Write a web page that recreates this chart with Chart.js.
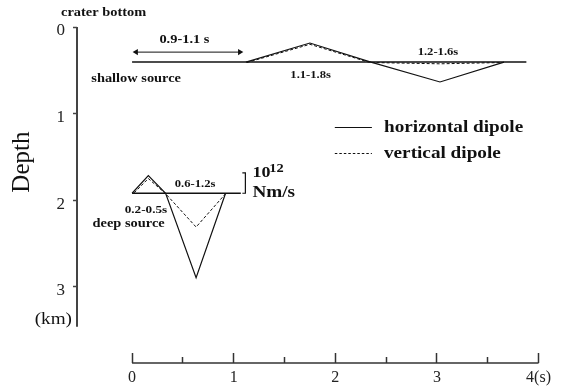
<!DOCTYPE html>
<html>
<head>
<meta charset="utf-8">
<title>Source time functions</title>
<script src="https://cdn.jsdelivr.net/npm/chart.js@4.4.1/dist/chart.umd.min.js"></script>
<style>
  html, body { margin: 0; padding: 0; background: #fff; }
  #wrap { width: 566px; height: 392px; }
</style>
</head>
<body>
<div id="wrap"><canvas id="chart" width="566" height="392"></canvas></div>
<script>
/* ---------- data: time (s) and depth (km) ---------- */
const X_TICKS = [0, 1, 2, 3, 4];
const X_MINOR = [0.5, 1.5, 2.5, 3.5];
const Y_TICKS = [0, 1, 2, 3];

// shallow source
const SHALLOW_BASE_T = [0, 3.88];
const SHALLOW_BASE_D = [0.405, 0.405];
const SHALLOW_H_T = [1.12, 1.75, 2.35, 3.03, 3.66];
const SHALLOW_H_D = [0.405, 0.185, 0.405, 0.635, 0.405];
const SHALLOW_V_T = [1.13, 1.75, 2.34, 3.03, 3.66];
const SHALLOW_V_D = [0.41, 0.20, 0.41, 0.425, 0.41];

// deep source
const DEEP_BASE_T = [0, 1.07];
const DEEP_BASE_D = [1.92, 1.92];
const DEEP_H_T = [0, 0.16, 0.33, 0.63, 0.92];
const DEEP_H_D = [1.92, 1.715, 1.92, 2.895, 1.92];
const DEEP_V_T = [0.02, 0.16, 0.33, 0.63, 0.92];
const DEEP_V_D = [1.915, 1.75, 1.925, 2.31, 1.925];

// duration arrow (0.9-1.1 s) and moment-rate scale bar (10^12 Nm/s)
const ARROW_T = [0.04, 1.06];
const ARROW_D = [0.29, 0.29];
const BAR_T = [1.085, 1.115, 1.115, 1.085];
const BAR_D = [1.685, 1.685, 1.92, 1.92];

const X_MIN = -0.542, X_MAX = 4;
const Y_MAX = 3.88;        // depth at the time axis
const Y_AXIS_END = 3.46;   // where the depth axis line stops

const SERIF = '"Liberation Serif", "Times New Roman", serif';
const SX = 1.2;            // the figure's lettering is a bit wide

const pts = (t, d) => t.map((v, i) => ({ x: v, y: d[i] }));

function line(data, extra) {
  return Object.assign({
    data,
    showLine: true,
    borderColor: '#111',
    borderWidth: 1.2,
    pointRadius: 0,
    fill: false
  }, extra || {});
}

/* ---------- annotations ---------- */
const notes = [
  { s: 'crater bottom', t: -0.28, d: -0.16, size: 12, bold: true },
  { s: '0.9-1.1 s', t: 0.515, d: 0.15, size: 12, bold: true },
  { s: 'shallow source', t: 0.04, d: 0.60, size: 12, bold: true },
  { s: '1.1-1.8s', t: 1.757, d: 0.554, size: 10.5, bold: true },
  { s: '1.2-1.6s', t: 3.01, d: 0.29, size: 10.5, bold: true },
  { s: '0.6-1.2s', t: 0.62, d: 1.82, size: 10.5, bold: true },
  { s: '0.2-0.5s', t: 0.136, d: 2.11, size: 11, bold: true },
  { s: 'deep source', t: -0.034, d: 2.27, size: 12, bold: true },
  { s: '10', t: 1.184, d: 1.685, size: 15, bold: true, align: 'left' },
  { s: '12', t: 1.35, d: 1.64, size: 12, bold: true, align: 'left' },
  { s: 'Nm/s', t: 1.184, d: 1.92, size: 16, bold: true, align: 'left' },
  { s: '(km)', t: -0.775, d: 3.38, size: 16, bold: false }
];

function text(ctx, s, x, y, size, bold, align) {
  ctx.save();
  ctx.font = (bold ? 'bold ' : '') + size + 'px ' + SERIF;
  ctx.fillStyle = '#111';
  ctx.textAlign = align || 'center';
  ctx.textBaseline = 'middle';
  ctx.translate(x, y);
  ctx.scale(SX, 1);
  ctx.fillText(s, 0, 0);
  ctx.restore();
}

const notesPlugin = {
  id: 'notes',
  afterDatasetsDraw(chart) {
    const { ctx, scales: { x, y } } = chart;
    notes.forEach(n =>
      text(ctx, n.s, x.getPixelForValue(n.t), y.getPixelForValue(n.d), n.size, n.bold, n.align));

    // "Depth" axis title, rotated
    ctx.save();
    ctx.translate(x.getPixelForValue(-1.075), y.getPixelForValue(1.56));
    ctx.rotate(-Math.PI / 2);
    ctx.font = '25px ' + SERIF;
    ctx.fillStyle = '#111';
    ctx.textAlign = 'center';
    ctx.textBaseline = 'middle';
    ctx.fillText('Depth', 0, 0);
    ctx.restore();

    // legend
    const lx0 = x.getPixelForValue(1.995), lx1 = x.getPixelForValue(2.36);
    const tx = x.getPixelForValue(2.479);
    const rows = [
      { label: chart.data.datasets[3].label, d: 1.155, dash: [] },
      { label: chart.data.datasets[4].label, d: 1.455, dash: [2.5, 2] }
    ];
    rows.forEach(r => {
      const py = Math.round(y.getPixelForValue(r.d)) + 0.5;
      ctx.save();
      ctx.strokeStyle = '#111';
      ctx.lineWidth = 1.2;
      ctx.setLineDash(r.dash);
      ctx.beginPath();
      ctx.moveTo(lx0, py);
      ctx.lineTo(lx1, py);
      ctx.stroke();
      ctx.restore();
      text(ctx, r.label, tx, py, 16, true, 'left');
    });
  }
};

/* ---------- chart ---------- */
const dashed = { borderDash: [3, 2], borderWidth: 1 };

new Chart(document.getElementById('chart'), {
  type: 'scatter',
  data: {
    datasets: [
      line([{ x: X_MIN, y: 0 }, { x: X_MIN, y: Y_AXIS_END }],
        { borderColor: '#444', borderWidth: 2, clip: false }),
      line([{ x: X_TICKS[0], y: Y_MAX }, { x: X_TICKS[X_TICKS.length - 1], y: Y_MAX }],
        { borderColor: '#333', borderWidth: 1.5, clip: false }),
      line(pts(SHALLOW_BASE_T, SHALLOW_BASE_D), { borderWidth: 1.5 }),
      line(pts(SHALLOW_H_T, SHALLOW_H_D), { label: 'horizontal dipole' }),
      line(pts(SHALLOW_V_T, SHALLOW_V_D), Object.assign({ label: 'vertical dipole' }, dashed)),
      line(pts(DEEP_BASE_T, DEEP_BASE_D), { borderWidth: 1.5 }),
      line(pts(DEEP_H_T, DEEP_H_D)),
      line(pts(DEEP_V_T, DEEP_V_D), dashed),
      line(pts(ARROW_T, ARROW_D), {
        borderWidth: 1,
        pointRadius: 3.5,
        pointStyle: 'triangle',
        pointRotation: [270, 90],
        pointBackgroundColor: '#111',
        pointBorderWidth: 0
      }),
      line(pts(BAR_T, BAR_D), { borderWidth: 1.2, clip: false })
    ]
  },
  options: {
    responsive: false,
    animation: false,
    devicePixelRatio: 1,
    layout: { padding: { top: 27, right: 20, left: 0, bottom: 0 } },
    plugins: { legend: { display: false }, tooltip: { enabled: false } },
    scales: {
      x: {
        type: 'linear',
        position: 'bottom',
        weight: 0,
        min: X_MIN,
        max: X_MAX,
        afterBuildTicks: s => { s.ticks = X_TICKS.map(v => ({ value: v })); },
        afterFit: s => { s.height = 29; },
        border: { display: false },
        grid: { drawOnChartArea: false, tickLength: -10, tickColor: '#333', tickWidth: 1.5 },
        ticks: {
          padding: 15,
          color: '#222',
          font: { family: SERIF, size: 16 },
          callback: v => (v === 4 ? '4(s)' : String(v))
        }
      },
      xMinor: {
        type: 'linear',
        position: 'bottom',
        weight: -1,
        min: X_MIN,
        max: X_MAX,
        afterBuildTicks: s => { s.ticks = X_MINOR.map(v => ({ value: v })); },
        afterFit: s => { s.height = 0; },
        border: { display: false },
        grid: { drawOnChartArea: false, tickLength: -6, tickColor: '#333', tickWidth: 1.5 },
        ticks: { display: false }
      },
      y: {
        type: 'linear',
        reverse: true,
        min: 0,
        max: Y_MAX,
        afterBuildTicks: s => { s.ticks = Y_TICKS.map(v => ({ value: v })); },
        afterFit: s => { s.width = 77; },
        border: { display: false },
        grid: { drawOnChartArea: false, tickLength: 4, tickColor: '#444', tickWidth: 1.5 },
        ticks: {
          padding: 8,
          labelOffset: 4,
          color: '#222',
          font: { family: SERIF, size: 17 }
        }
      }
    }
  },
  plugins: [notesPlugin]
});
</script>
</body>
</html>
